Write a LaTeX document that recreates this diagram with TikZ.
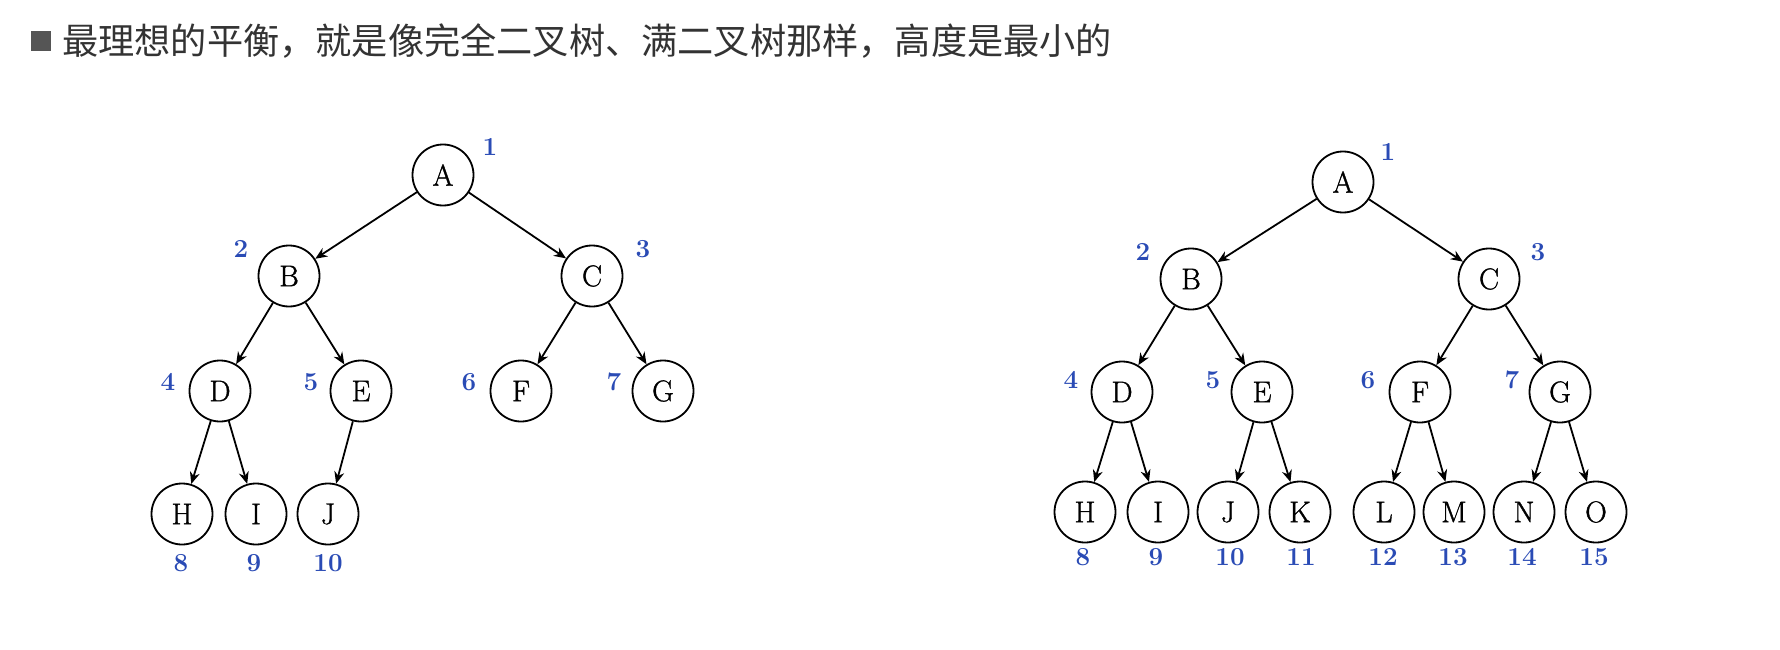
\documentclass[tikz,border=0pt]{standalone}
\usepackage{fontspec}
\newfontfamily\cjk{Noto Sans CJK SC}
\newfontfamily\nodefont{Latin Modern Roman}[FakeBold=1.2]
\usetikzlibrary{arrows.meta}
\definecolor{numblue}{HTML}{2A4BB5}
\definecolor{headgray}{HTML}{333333}
\definecolor{boxgray}{HTML}{555555}
\tikzset{
  treenode/.style={circle,draw,line width=1.8pt,minimum size=61pt,inner sep=0pt,font=\nodefont\fontsize{30}{30}\selectfont},
  idx/.style={text=numblue,font=\fontsize{26}{26}\selectfont\bfseries},
  edge/.style={-{Stealth[length=12pt,width=10pt]},line width=1.8pt},
}
\begin{document}
\begin{tikzpicture}[x=1pt,y=-1pt]
	\useasboundingbox (0,0) rectangle (1780,650);
	% heading
	\node[fill=boxgray,minimum size=20pt,inner sep=0pt] (bullet) at (41,41) {};
	\node[anchor=west,text=headgray,font=\cjk\fontsize{36.2}{36.2}\selectfont,inner sep=0pt] (head) at (62,41) {最理想的平衡，就是像完全二叉树、满二叉树那样，高度是最小的};
	% left tree
	\node[treenode] (la) at (443,175) {A};
	\node[treenode] (lb) at (289,276) {B};
	\node[treenode] (lc) at (592,276) {C};
	\node[treenode] (ld) at (220,391) {D};
	\node[treenode] (le) at (361,391) {E};
	\node[treenode] (lf) at (521,391) {F};
	\node[treenode] (lg) at (663,391) {G};
	\node[treenode] (lh) at (182,514) {H};
	\node[treenode] (li) at (256,514) {I};
	\node[treenode] (lj) at (328,514) {J};
	\draw[edge] (la) -- (lb);
	\draw[edge] (la) -- (lc);
	\draw[edge] (lb) -- (ld);
	\draw[edge] (lb) -- (le);
	\draw[edge] (lc) -- (lf);
	\draw[edge] (lc) -- (lg);
	\draw[edge] (ld) -- (lh);
	\draw[edge] (ld) -- (li);
	\draw[edge] (le) -- (lj);
	\node[idx] (ln1) at (490,147) {1};
	\node[idx] (ln2) at (241,249) {2};
	\node[idx] (ln3) at (643,249) {3};
	\node[idx] (ln4) at (168,382) {4};
	\node[idx] (ln5) at (311,382) {5};
	\node[idx] (ln6) at (469,382) {6};
	\node[idx] (ln7) at (614,382) {7};
	\node[idx] (ln8) at (181,563) {8};
	\node[idx] (ln9) at (254,563) {9};
	\node[idx] (ln10) at (328,563) {10};
	% right tree
	\node[treenode] (ra) at (1343,182) {A};
	\node[treenode] (rb) at (1191,279) {B};
	\node[treenode] (rc) at (1489,279) {C};
	\node[treenode] (rd) at (1122,392) {D};
	\node[treenode] (re) at (1262,392) {E};
	\node[treenode] (rf) at (1420,392) {F};
	\node[treenode] (rg) at (1560,392) {G};
	\node[treenode] (rh) at (1085,512) {H};
	\node[treenode] (ri) at (1158,512) {I};
	\node[treenode] (rj) at (1228,512) {J};
	\node[treenode] (rk) at (1300,512) {K};
	\node[treenode] (rl) at (1384,512) {L};
	\node[treenode] (rm) at (1454,512) {M};
	\node[treenode] (rn) at (1524,512) {N};
	\node[treenode] (ro) at (1596,512) {O};
	\draw[edge] (ra) -- (rb);
	\draw[edge] (ra) -- (rc);
	\draw[edge] (rb) -- (rd);
	\draw[edge] (rb) -- (re);
	\draw[edge] (rc) -- (rf);
	\draw[edge] (rc) -- (rg);
	\draw[edge] (rd) -- (rh);
	\draw[edge] (rd) -- (ri);
	\draw[edge] (re) -- (rj);
	\draw[edge] (re) -- (rk);
	\draw[edge] (rf) -- (rl);
	\draw[edge] (rf) -- (rm);
	\draw[edge] (rg) -- (rn);
	\draw[edge] (rg) -- (ro);
	\node[idx] (rn1) at (1388,152) {1};
	\node[idx] (rn2) at (1143,252) {2};
	\node[idx] (rn3) at (1538,252) {3};
	\node[idx] (rn4) at (1071,380) {4};
	\node[idx] (rn5) at (1213,380) {5};
	\node[idx] (rn6) at (1368,380) {6};
	\node[idx] (rn7) at (1512,380) {7};
	\node[idx] (rn8) at (1083,557) {8};
	\node[idx] (rn9) at (1156,557) {9};
	\node[idx] (rn10) at (1230,557) {10};
	\node[idx] (rn11) at (1301,557) {11};
	\node[idx] (rn12) at (1383,557) {12};
	\node[idx] (rn13) at (1453,557) {13};
	\node[idx] (rn14) at (1522,557) {14};
	\node[idx] (rn15) at (1594,557) {15};
\end{tikzpicture}
\end{document}
